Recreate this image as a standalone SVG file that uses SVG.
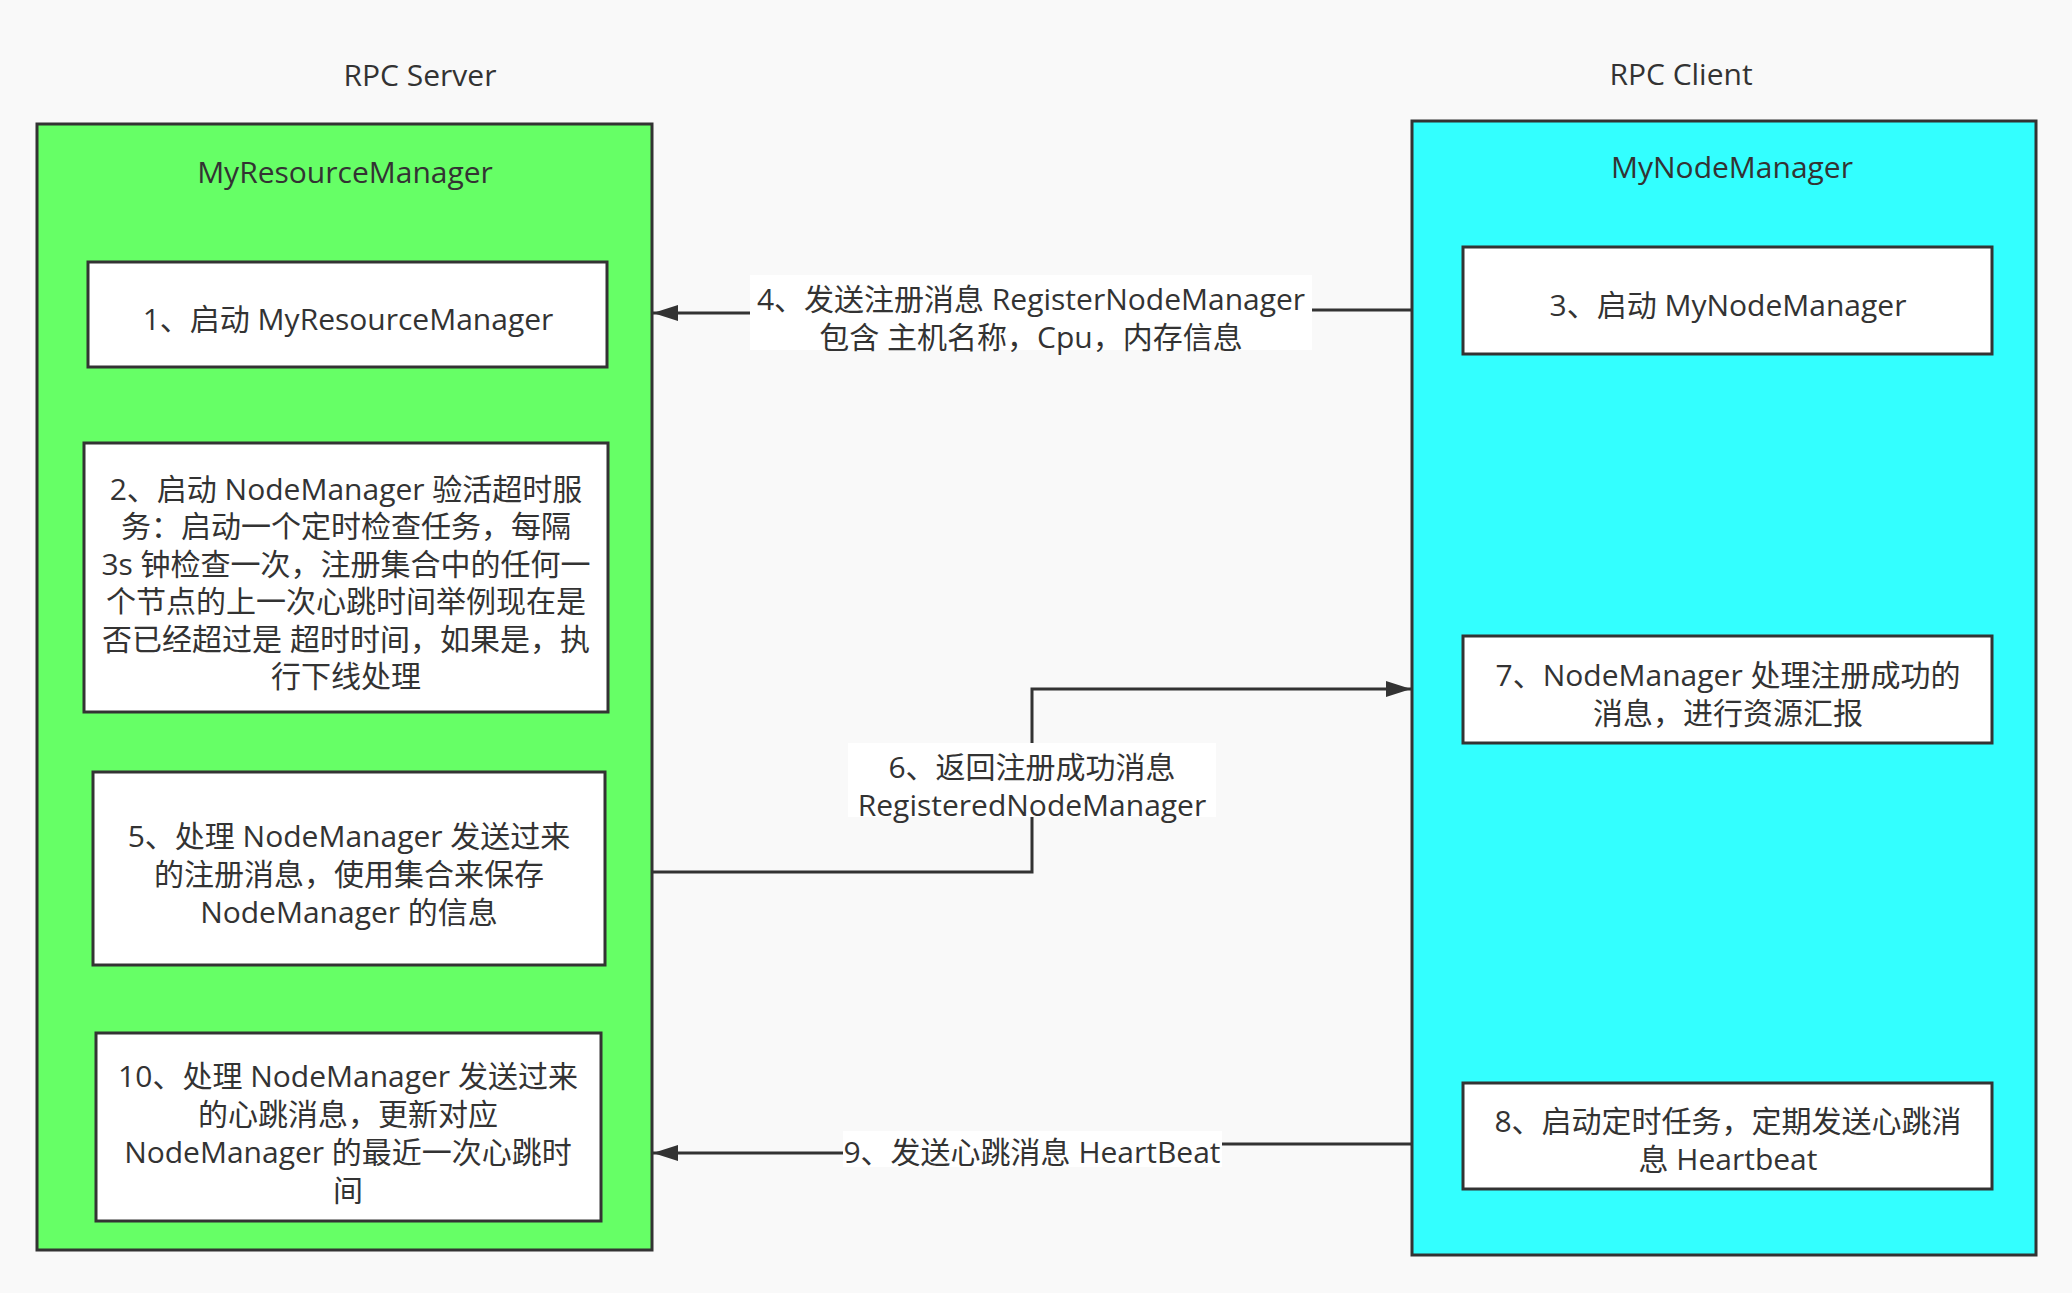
<svg xmlns="http://www.w3.org/2000/svg" width="2072" height="1293" viewBox="0 0 2072 1293">
<style>
text{font-family:"Open Sans","Noto Sans CJK SC",sans-serif;font-size:30px;fill:#333;text-anchor:middle;dominant-baseline:central}
.cont{stroke:#333;stroke-width:3}
.box{fill:#fff;stroke:#333;stroke-width:3}
.conn{fill:none;stroke:#333;stroke-width:3}
.lbl{fill:#fff}
</style>
<defs>
<marker id="arr" markerUnits="userSpaceOnUse" markerWidth="26" markerHeight="18" viewBox="0 0 26 18" refX="25" refY="9" orient="auto">
<path d="M0,1 L25,9 L0,17 Z" fill="#333"/>
</marker>
</defs>
<rect width="2072" height="1293" fill="#f9f9f9"/>
<text x="420" y="74">RPC Server</text>
<text x="1681" y="73">RPC Client</text>
<g id="server">
<rect class="cont" x="37" y="124" width="615" height="1126" fill="#66ff66"/>
<text x="345" y="171">MyResourceManager</text>
</g>
<g id="client">
<rect class="cont" x="1412" y="121" width="624" height="1134" fill="#33ffff"/>
<text x="1732" y="166">MyNodeManager</text>
</g>
<g id="n1">
<rect class="box" x="88" y="262" width="519" height="105"/>
<text x="348" y="318">1、启动 MyResourceManager</text>
</g>
<g id="n2">
<rect class="box" x="84" y="443" width="524" height="269"/>
<text x="346" y="488">2、启动 NodeManager 验活超时服</text>
<text x="346" y="525.5">务：启动一个定时检查任务，每隔</text>
<text x="346" y="563">3s 钟检查一次，注册集合中的任何一</text>
<text x="346" y="600.5">个节点的上一次心跳时间举例现在是</text>
<text x="346" y="638">否已经超过是 超时时间，如果是，执</text>
<text x="346" y="675.5">行下线处理</text>
</g>
<g id="n5">
<rect class="box" x="93" y="772" width="512" height="193"/>
<text x="349" y="835">5、处理 NodeManager 发送过来</text>
<text x="349" y="873">的注册消息，使用集合来保存</text>
<text x="349" y="911">NodeManager 的信息</text>
</g>
<g id="n10">
<rect class="box" x="96" y="1033" width="505" height="188"/>
<text x="348" y="1075">10、处理 NodeManager 发送过来</text>
<text x="348" y="1113">的心跳消息，更新对应</text>
<text x="348" y="1151">NodeManager 的最近一次心跳时</text>
<text x="348" y="1189">间</text>
</g>
<g id="n3">
<rect class="box" x="1463" y="247" width="529" height="107"/>
<text x="1728" y="304">3、启动 MyNodeManager</text>
</g>
<g id="n7">
<rect class="box" x="1463" y="636" width="529" height="107"/>
<text x="1728" y="674">7、NodeManager 处理注册成功的</text>
<text x="1728" y="712">消息，进行资源汇报</text>
</g>
<g id="n8">
<rect class="box" x="1463" y="1083" width="529" height="106"/>
<text x="1728" y="1120">8、启动定时任务，定期发送心跳消</text>
<text x="1728" y="1158">息 Heartbeat</text>
</g>
<g id="connectors">
<path class="conn" d="M1412,310 H1031 V313 H653" marker-end="url(#arr)"/>
<path class="conn" d="M652,872 H1032 V689 H1411" marker-end="url(#arr)"/>
<path class="conn" d="M1412,1144 H1032 V1153 H653" marker-end="url(#arr)"/>
<rect class="lbl" x="750" y="275" width="562" height="75"/>
<text x="1031" y="298">4、发送注册消息 RegisterNodeManager</text>
<text x="1031" y="336">包含 主机名称，Cpu，内存信息</text>
<rect class="lbl" x="848" y="743" width="368" height="74"/>
<text x="1032" y="766">6、返回注册成功消息</text>
<text x="1032" y="804">RegisteredNodeManager</text>
<rect class="lbl" x="843" y="1131" width="379" height="36"/>
<text x="1032" y="1151">9、发送心跳消息 HeartBeat</text>
</g>
</svg>
